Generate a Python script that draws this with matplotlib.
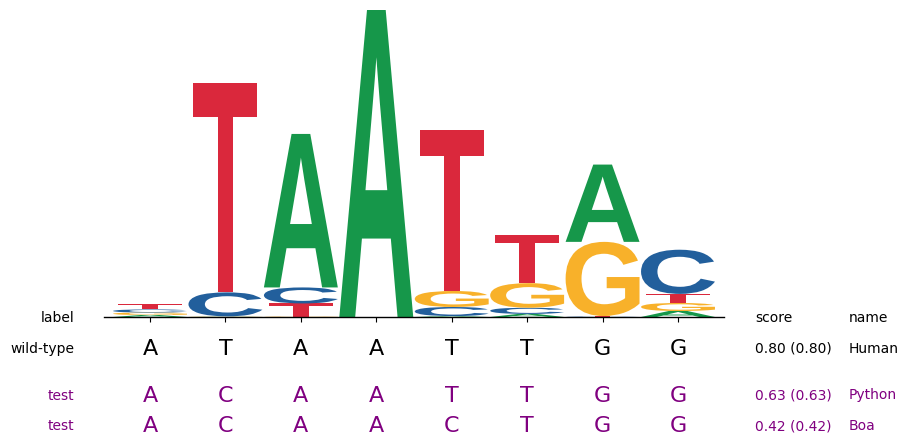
import matplotlib
matplotlib.use("Agg")
import matplotlib.pyplot as plt
from matplotlib.textpath import TextPath
from matplotlib.patches import PathPatch
from matplotlib.font_manager import FontProperties
from matplotlib.transforms import Affine2D, blended_transform_factory

# logo heights (bits) per position
bases = ["A", "C", "G", "T"]
positions = [0, 1, 2, 3, 4, 5, 6, 7]
height_A = [0.013, 0.002, 0.997, 1.994, 0.006, 0.020, 0.502, 0.039]
height_C = [0.020, 0.156, 0.104, 0.000, 0.059, 0.040, 0.003, 0.287]
height_G = [0.016, 0.002, 0.003, 0.000, 0.104, 0.160, 0.482, 0.052]
height_T = [0.033, 1.362, 0.085, 0.000, 1.046, 0.312, 0.003, 0.059]

# sequence table under the logo
row_labels = ["wild-type", "test", "test"]
row_seqs = ["ATAATTGG", "ACAATTGG", "ACAACTGG"]
row_scores = ["0.80 (0.80)", "0.63 (0.63)", "0.42 (0.42)"]
row_names = ["Human", "Python", "Boa"]

colors = {"A": "#16974a", "C": "#225f9c", "G": "#f8b12a", "T": "#da283c"}
widths = {"A": 0.98, "C": 0.98, "G": 0.98, "T": 0.85}
row_colors = ["black", "purple", "purple"]
row_ypix = [349, 395.5, 426.5]

W, H = 909, 445
fig = plt.figure(figsize=(W / 100, H / 100), dpi=100)
ax = fig.add_axes([104 / W, 1 - 317 / H, 620 / W, 307 / H])

fp = FontProperties(family="Liberation Sans", weight="bold")


def draw_glyph(ax, ch, x, y0, h):
    path = TextPath((0, 0), ch, size=1, prop=fp)
    ext = path.get_extents()
    w = widths[ch]
    tr = (Affine2D().translate(-ext.x0, -ext.y0)
          .scale(w / ext.width, h / ext.height)
          .translate(x - w / 2, y0))
    patch = PathPatch(tr.transform_path(path), facecolor=colors[ch],
                      edgecolor="none", lw=0)
    ax.add_patch(patch)


heights = {"A": height_A, "C": height_C, "G": height_G, "T": height_T}
totals = []
for i, pos in enumerate(positions):
    col = sorted(bases, key=lambda b: heights[b][i])  # big on top
    y = 0.0
    for b in col:
        h = heights[b][i]
        if h > 0:
            draw_glyph(ax, b, pos, y, h)
        y += h
    totals.append(y)

ax.set_xlim(-0.61, 7.61)
ax.set_ylim(0, max(totals))
ax.set_xticks(positions)
ax.set_xticklabels([])
ax.set_yticks([])
for s in ["left", "right", "top"]:
    ax.spines[s].set_visible(False)
ax.spines["bottom"].set_linewidth(1.0)

# table text
tr_x = blended_transform_factory(ax.transData, fig.transFigure)


def fy(ypix):
    return 1 - ypix / H


fig.text(74 / W, fy(318.5), "label", ha="right", va="center", fontsize=10)
fig.text(755 / W, fy(318.5), "score", ha="left", va="center", fontsize=10)
fig.text(849 / W, fy(318.5), "name", ha="left", va="center", fontsize=10)

for lab, seq, sc, nm, c, yp in zip(row_labels, row_seqs, row_scores,
                                   row_names, row_colors, row_ypix):
    fig.text(74 / W, fy(yp), lab, ha="right", va="center", fontsize=10, color=c)
    for pos, ch in zip(positions, seq):
        ax.text(pos, fy(yp), ch, transform=tr_x, ha="center", va="center",
                fontsize=16, color=c, clip_on=False)
    fig.text(755 / W, fy(yp), sc, ha="left", va="center", fontsize=10, color=c)
    fig.text(849 / W, fy(yp), nm, ha="left", va="center", fontsize=10, color=c)

fig.savefig("out.png", dpi=100)
